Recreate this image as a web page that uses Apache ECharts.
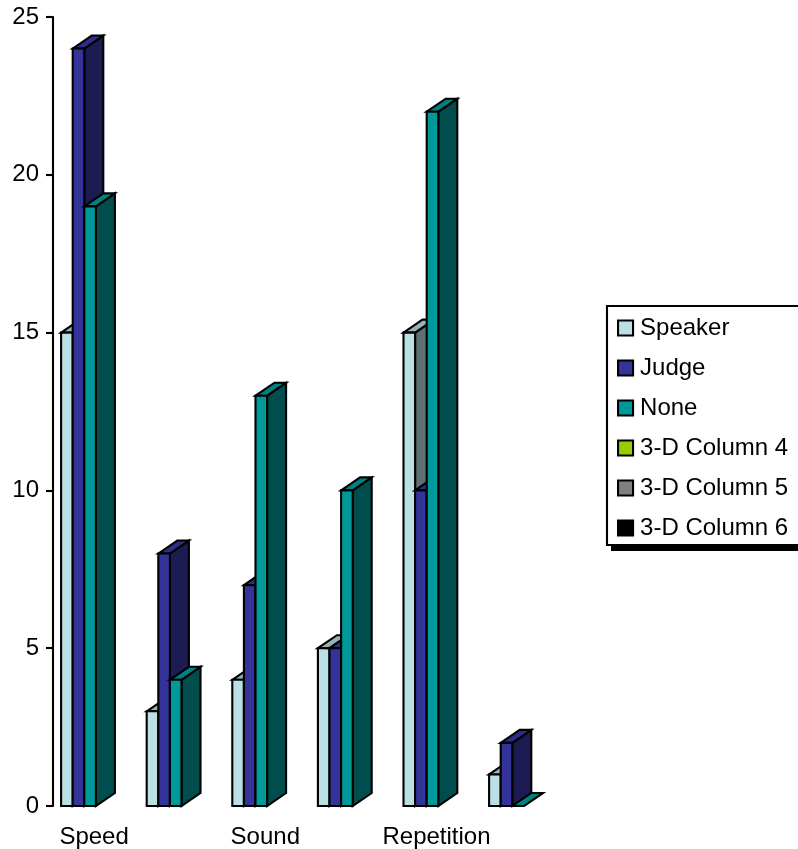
<!DOCTYPE html>
<html>
<head>
<meta charset="utf-8">
<style>
  html, body { margin: 0; padding: 0; background: #fff; }
  #chart { width: 798px; height: 849px; }
</style>
<script src="https://cdn.jsdelivr.net/npm/echarts@6/dist/echarts.min.js"></script>
</head>
<body>
<div id="chart"></div>
<script>
var categories = ['Speed', '', 'Sound', '', 'Repetition', ''];
var speaker = [15, 3, 4, 5, 15, 1];
var judge = [24, 8, 7, 5, 10, 2];
var none = [19, 4, 13, 10, 22, 0];
var yTicks = [0, 5, 10, 15, 20, 25];

var BAR_W = 11.6;
var DEPTH_X = 19;
var DEPTH_Y = 13;
var START_OFF = -33;
var STROKE = 2.1;

// front, side, top
var shades = [
  ['#bbe0e3', '#5e7072', '#95b3b5'],
  ['#333399', '#1c1c52', '#2e2e8a'],
  ['#009999', '#004d4d', '#008080']
];

function bar3d(params, api) {
  var s = params.seriesIndex;
  var top = api.coord([api.value(0), api.value(1)]);
  var base = api.coord([api.value(0), 0]);
  var x0 = top[0] + START_OFF + s * BAR_W;
  var x1 = x0 + BAR_W;
  var y0 = top[1];
  var y1 = base[1];
  function face(points, color) {
    return {
      type: 'polygon',
      shape: { points: points },
      style: { fill: color, stroke: '#000', lineWidth: STROKE, lineJoin: 'miter' }
    };
  }
  return {
    type: 'group',
    children: [
      face([[x1, y0], [x1 + DEPTH_X, y0 - DEPTH_Y], [x1 + DEPTH_X, y1 - DEPTH_Y], [x1, y1]], shades[s][1]),
      face([[x0, y0], [x0 + DEPTH_X, y0 - DEPTH_Y], [x1 + DEPTH_X, y0 - DEPTH_Y], [x1, y0]], shades[s][2]),
      face([[x0, y0], [x1, y0], [x1, y1], [x0, y1]], shades[s][0])
    ]
  };
}

function makeSeries(name, values, color) {
  return {
    name: name,
    type: 'custom',
    renderItem: bar3d,
    clip: false,
    itemStyle: { color: color },
    encode: { x: 0, y: 1 },
    data: values.map(function (v, i) { return [i, v]; })
  };
}

var chart = echarts.init(document.getElementById('chart'), null, { renderer: 'canvas' });
chart.setOption({
  animation: false,
  backgroundColor: '#fff',
  textStyle: { fontFamily: '"Liberation Sans", Arial, sans-serif' },
  grid: { left: 51.3, top: 17, width: 513.6, bottom: 43, containLabel: false },
  // legend drop shadow
  graphic: [{
    type: 'rect',
    z: -1,
    shape: { x: 611, y: 312, width: 200, height: 239 },
    style: { fill: '#000' }
  }],
  legend: {
    orient: 'vertical',
    left: 607,
    top: 306,
    padding: [10, 20, 5, 10],
    itemGap: 16,
    itemWidth: 15,
    itemHeight: 15,
    icon: 'rect',
    borderColor: '#000',
    borderWidth: STROKE,
    backgroundColor: '#fff',
    itemStyle: { borderColor: '#000', borderWidth: STROKE },
    textStyle: { fontSize: 24, lineHeight: 24, color: '#000', padding: [0, 0, 0, 2] },
    data: ['Speaker', 'Judge', 'None', '3-D Column 4', '3-D Column 5', '3-D Column 6']
  },
  xAxis: {
    type: 'category',
    data: categories,
    axisLine: { show: false },
    axisTick: { show: false },
    axisLabel: { interval: 0, fontSize: 24, color: '#000', margin: 19 }
  },
  yAxis: {
    type: 'value',
    min: yTicks[0],
    max: yTicks[yTicks.length - 1],
    interval: 5,
    offset: -1.7,
    splitLine: { show: false },
    axisLine: { show: true, lineStyle: { color: '#000', width: STROKE } },
    axisTick: { show: true, length: 7, lineStyle: { color: '#000', width: STROKE } },
    axisLabel: { fontSize: 24, color: '#000', margin: 14, padding: [4, 0, 0, 0] }
  },
  series: [
    makeSeries('Speaker', speaker, '#bbe0e3'),
    makeSeries('Judge', judge, '#333399'),
    makeSeries('None', none, '#009999'),
    makeSeries('3-D Column 4', [], '#99cc00'),
    makeSeries('3-D Column 5', [], '#808080'),
    makeSeries('3-D Column 6', [], '#000000')
  ]
});
</script>
</body>
</html>
